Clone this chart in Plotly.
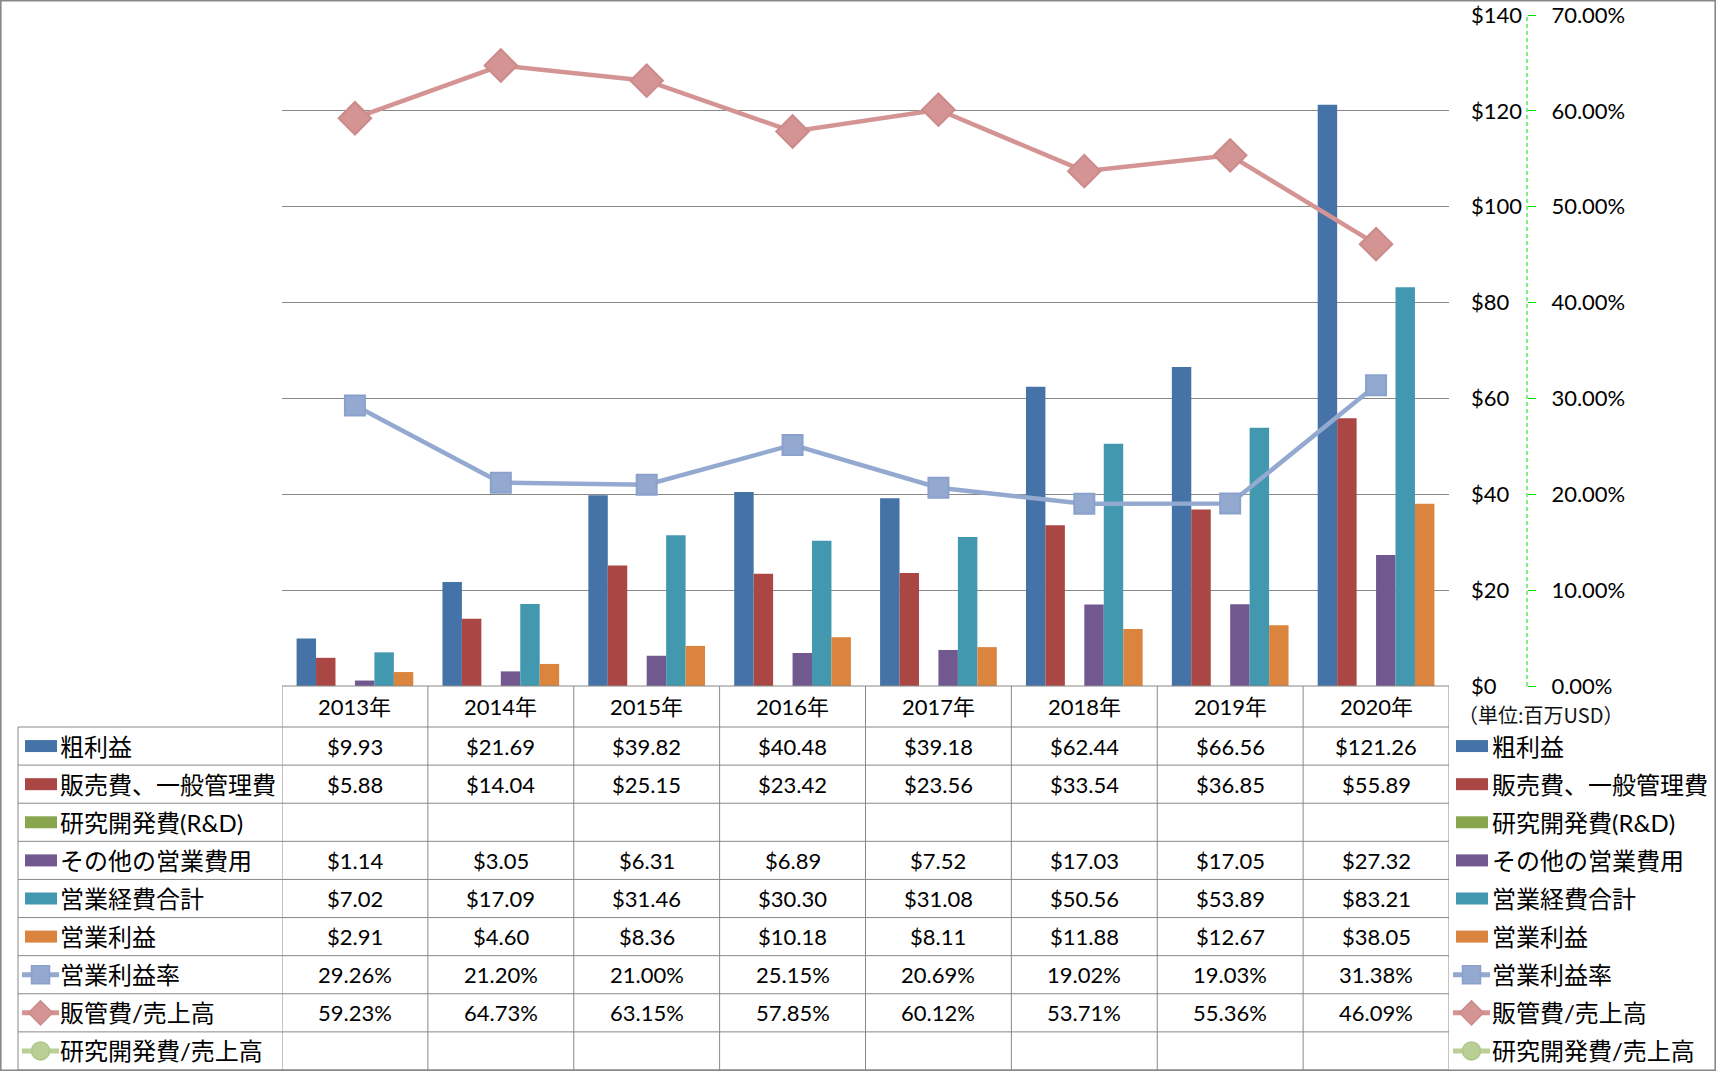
import plotly.graph_objects as go

# ---------------- data ----------------
years = ["2013年", "2014年", "2015年", "2016年", "2017年", "2018年", "2019年", "2020年"]
bar_names = ["粗利益", "販売費、一般管理費", "研究開発費(R&D)", "その他の営業費用", "営業経費合計", "営業利益"]
line_names = ["営業利益率", "販管費/売上高", "研究開発費/売上高"]

gross_profit = [9.93, 21.69, 39.82, 40.48, 39.18, 62.44, 66.56, 121.26]
sga = [5.88, 14.04, 25.15, 23.42, 23.56, 33.54, 36.85, 55.89]
rnd = [None] * 8
other_opex = [1.14, 3.05, 6.31, 6.89, 7.52, 17.03, 17.05, 27.32]
total_opex = [7.02, 17.09, 31.46, 30.30, 31.08, 50.56, 53.89, 83.21]
op_income = [2.91, 4.60, 8.36, 10.18, 8.11, 11.88, 12.67, 38.05]

op_margin_pct = [29.26, 21.20, 21.00, 25.15, 20.69, 19.02, 19.03, 31.38]
sga_ratio_pct = [59.23, 64.73, 63.15, 57.85, 60.12, 53.71, 55.36, 46.09]
rnd_ratio_pct = [None] * 8

usd_ticks = [0, 20, 40, 60, 80, 100, 120, 140]
pct_ticks = [0, 10, 20, 30, 40, 50, 60, 70]
unit_note = "（単位:百万USD）"

# ---------------- styling ----------------
W, H = 1716, 1071
bar_colors = ["#4572A7", "#AA4643", "#89A54E", "#71588F", "#4198AF", "#DB843D"]
line_colors = ["#93A9D0", "#D49494", "#B9CF96"]
line_borders = ["#8AA1CB", "#CC8A8A", "#AFC78A"]
grid_col = "#888888"
FONT = "Lato, 'Noto Sans CJK JP', sans-serif"


def px(x):
    return x / W


def py(y):
    return 1 - y / H


plot_l, plot_r, plot_t, plot_b = 282, 1449, 15, 686
header_b = 727
row_h = (1070 - header_b) / 9.0

fig = go.Figure()

bar_series = [gross_profit, sga, rnd, other_opex, total_opex, op_income]
n = len(bar_series)
slot = 0.8 / n
for i, (name, vals) in enumerate(zip(bar_names, bar_series)):
    fig.add_trace(go.Bar(
        x=list(range(len(years))), y=vals, name=name,
        marker=dict(color=bar_colors[i], line=dict(width=0)),
        width=slot, offset=-0.4 + i * slot,
        xaxis="x", yaxis="y", showlegend=False,
    ))

line_series = [op_margin_pct, sga_ratio_pct, rnd_ratio_pct]
symbols = ["square", "diamond", "circle"]
sizes = [20, 25, 18]
for i, (name, vals) in enumerate(zip(line_names, line_series)):
    fig.add_trace(go.Scatter(
        x=list(range(len(years))),
        y=[None if v is None else v / 100 for v in vals],
        name=name, mode="lines+markers",
        line=dict(color=line_colors[i], width=4.5),
        marker=dict(symbol=symbols[i], size=sizes[i], color=line_colors[i],
                    line=dict(color=line_borders[i], width=2)),
        xaxis="x", yaxis="y2", showlegend=False,
    ))

shapes = []
annotations = []
line_style = dict(color=grid_col, width=1)

# outer chart border
shapes.append(dict(type="rect", xref="paper", yref="paper",
                   x0=px(0.8), x1=px(W - 0.8), y0=py(H - 0.8), y1=py(0.8),
                   line=dict(color=grid_col, width=1.6)))

# green dashed secondary axis line
axis2_x = 1527
shapes.append(dict(type="line", xref="paper", yref="paper",
                   x0=px(axis2_x), x1=px(axis2_x), y0=py(plot_b), y1=py(plot_t),
                   line=dict(color="#00E000", width=1, dash="4px,3px")))

# table: top border and horizontal lines
shapes.append(dict(type="line", xref="paper", yref="paper",
                   x0=px(plot_l), x1=px(plot_r), y0=py(plot_b), y1=py(plot_b), line=line_style))
for k in range(10):
    yy = header_b + k * row_h
    shapes.append(dict(type="line", xref="paper", yref="paper",
                       x0=px(18), x1=px(plot_r), y0=py(yy), y1=py(yy), line=line_style))
# vertical lines
shapes.append(dict(type="line", xref="paper", yref="paper",
                   x0=px(18), x1=px(18), y0=py(header_b), y1=py(1070), line=line_style))
for j in range(len(years) + 1):
    shapes.append(dict(type="line", xref="x", yref="paper",
                       x0=j - 0.5, x1=j - 0.5, y0=py(plot_b), y1=py(1070), line=line_style))

# year header
for j, yr in enumerate(years):
    annotations.append(dict(x=j, xref="x", y=py((plot_b + header_b) / 2), yref="paper",
                            text=yr, showarrow=False, font=dict(size=22, color="black", family=FONT),
                            xanchor="center", yanchor="middle"))

# table body values
all_names = bar_names + line_names
all_vals = bar_series + line_series
for r, (name, vals) in enumerate(zip(all_names, all_vals)):
    cy = header_b + (r + 0.5) * row_h
    for j, v in enumerate(vals):
        if v is None:
            continue
        txt = f"${v:.2f}" if r < 6 else f"{v:.2f}%"
        annotations.append(dict(x=j, xref="x", y=py(cy), yref="paper", text=txt,
                                showarrow=False, font=dict(size=22, color="black", family=FONT),
                                xanchor="center", yanchor="middle"))


def legend_key(r, x_left, text_x):
    cy = header_b + (r + 0.5) * row_h
    if r < 6:
        shapes.append(dict(type="rect", xref="paper", yref="paper",
                           x0=px(x_left + 2), x1=px(x_left + 34), y0=py(cy + 6), y1=py(cy - 6),
                           fillcolor=bar_colors[r], line=dict(width=0)))
    else:
        li = r - 6
        col = line_colors[li]
        shapes.append(dict(type="line", xref="paper", yref="paper",
                           x0=px(x_left - 1), x1=px(x_left + 36), y0=py(cy), y1=py(cy),
                           line=dict(color=col, width=5)))
        mx = x_left + 17.5
        if li == 0:
            shapes.append(dict(type="rect", xref="paper", yref="paper",
                               x0=px(mx - 9), x1=px(mx + 9), y0=py(cy + 9), y1=py(cy - 9),
                               fillcolor=col, line=dict(color=line_borders[li], width=1.5)))
        elif li == 1:
            d = 12
            path = (f"M {px(mx - d)} {py(cy)} L {px(mx)} {py(cy - d)} "
                    f"L {px(mx + d)} {py(cy)} L {px(mx)} {py(cy + d)} Z")
            shapes.append(dict(type="path", xref="paper", yref="paper", path=path,
                               fillcolor=col, line=dict(color=line_borders[li], width=1.5)))
        else:
            shapes.append(dict(type="circle", xref="paper", yref="paper",
                               x0=px(mx - 9), x1=px(mx + 9), y0=py(cy + 9), y1=py(cy - 9),
                               fillcolor=col, line=dict(color=line_borders[li], width=1.5)))
    annotations.append(dict(x=px(text_x), xref="paper", y=py(cy), yref="paper",
                            text=all_names[r], showarrow=False,
                            font=dict(size=24, color="black", family=FONT),
                            xanchor="left", yanchor="middle"))


for r in range(9):
    legend_key(r, 23, 58)
    legend_key(r, 1454, 1490)

annotations.append(dict(x=px(1456), xref="paper", y=py(714), yref="paper", text=unit_note,
                        showarrow=False, font=dict(size=20, color="#111111",
                                                   family="'Noto Sans CJK JP', sans-serif"),
                        xanchor="left", yanchor="middle"))

fig.update_layout(
    width=W, height=H, autosize=False,
    margin=dict(l=0, r=0, t=0, b=0, pad=0, autoexpand=False),
    paper_bgcolor="white", plot_bgcolor="white",
    font=dict(family=FONT, size=22, color="black"),
    shapes=shapes, annotations=annotations,
    showlegend=False,
    xaxis=dict(domain=[px(plot_l), px(plot_r)], range=[-0.5, len(years) - 0.5],
               showticklabels=False, showgrid=False, zeroline=False, showline=False,
               automargin=False, fixedrange=True),
    yaxis=dict(domain=[py(plot_b), py(plot_t)], range=[0, 140], tickmode="array",
               tickvals=usd_ticks, ticktext=[f"${t}" for t in usd_ticks],
               side="right", anchor="free", position=px(1470),
               showgrid=True, gridcolor=grid_col, gridwidth=1, zeroline=False,
               showline=False, ticks="", ticklabelstandoff=0, automargin=False,
               tickfont=dict(size=22, family=FONT, color="black")),
    yaxis2=dict(overlaying="y", range=[0, 0.7], tickvals=[t / 100 for t in pct_ticks],
                tickformat=".2%", side="right", anchor="free", position=px(axis2_x),
                showgrid=False, zeroline=False, showline=False, automargin=False,
                ticks="outside", ticklen=8, tickcolor="#00E000", tickwidth=1,
                ticklabelstandoff=11,
                tickfont=dict(size=22, family=FONT, color="black")),
)

fig.write_html("out.html")
